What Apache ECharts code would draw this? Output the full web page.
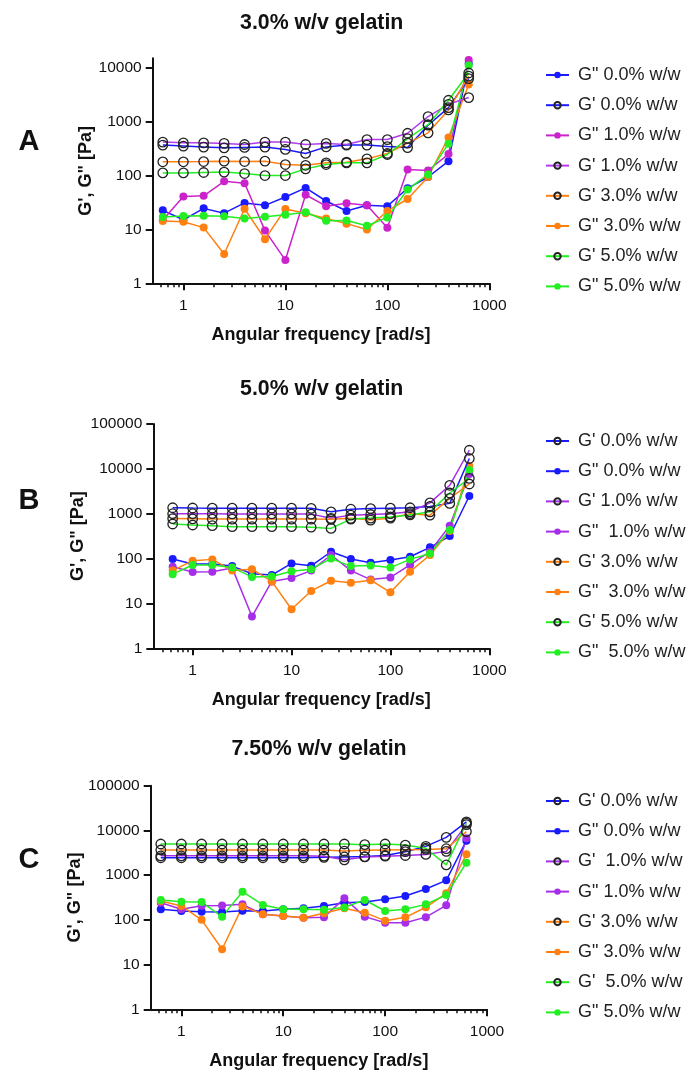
<!DOCTYPE html>
<html><head><meta charset="utf-8">
<script src="https://cdn.jsdelivr.net/npm/echarts@6/dist/echarts.min.js"></script>
<style>html,body{margin:0;padding:0;background:#fff}#c{width:694px;height:1084px}</style>
</head><body><div id="c"></div>
<script>
// ---- data ----
const freq = [0.628, 1, 1.58, 2.51, 3.98, 6.31, 10, 15.8, 25.1, 39.8, 63.1, 100, 158, 251, 398, 628];
const xMajorTicks = [1, 10, 100, 1000];
const xMinorTicks = [0.4, 0.5, 0.6, 0.7, 0.8, 0.9, 2, 3, 4, 5, 6, 7, 8, 9, 20, 30, 40, 50, 60, 70, 80, 90, 200, 300, 400, 500, 600, 700, 800, 900];
const yTicksA = [1, 10, 100, 1000, 10000];
const yTicksBC = [1, 10, 100, 1000, 10000, 100000];
const panelTitles = ['3.0% w/v gelatin', '5.0% w/v gelatin', '7.50% w/v gelatin'];
const panelLetters = ['A', 'B', 'C'];

// Panel A (3.0% w/v gelatin)
const A_Gpp_00 = [22.6, 15.1, 24.6, 20, 31, 28, 40, 59, 33.7, 22, 28, 27, 58, 94, 185, 12000];
const A_Gp_00  = [367, 352, 337, 327, 333, 337, 305, 257, 340, 367, 367, 345, 330, 860, 1820, 6300];
const A_Gpp_10 = [15, 41, 42, 78, 72, 9.5, 2.7, 44, 27, 30.5, 28, 10.7, 130, 124, 250, 14000];
const A_Gp_10  = [418, 405, 405, 395, 377, 418, 418, 377, 395, 377, 465, 465, 610, 1240, 2100, 2800];
const A_Gp_30  = [180, 180, 182, 185, 182, 185, 160, 155, 172, 177, 204, 257, 400, 620, 1650, 7000];
const A_Gpp_30 = [14.3, 13.9, 10.8, 3.5, 24.2, 6.6, 24, 20, 16, 12.8, 10, 22, 36.7, 94, 510, 4900];
const A_Gp_50  = [112, 112, 114, 116, 109, 100, 100, 133, 160, 172, 172, 246, 486, 880, 2500, 8000];
const A_Gpp_50 = [17, 17.7, 18, 17.5, 16, 17.2, 18.7, 20.8, 14.5, 14.7, 11.7, 16.7, 55, 105, 390, 11000];

// Panel B (5.0% w/v gelatin)
const B_Gp_00  = [1360, 1340, 1330, 1330, 1330, 1330, 1330, 1320, 1100, 1260, 1300, 1330, 1360, 1450, 1700, 17000];
const B_Gpp_00 = [98, 76, 76, 68, 46, 43, 78, 69, 142, 98, 81, 93, 110, 178, 318, 2480];
const B_Gp_10  = [1000, 1000, 1000, 990, 990, 990, 990, 980, 790, 930, 960, 1000, 1100, 1750, 4300, 26000];
const B_Gpp_10 = [66, 50, 51, 62, 5.1, 31, 37, 54, 120, 54, 34, 38, 72, 142, 540, 7700];
const B_Gp_30  = [780, 770, 760, 760, 760, 760, 760, 760, 750, 790, 720, 800, 1000, 930, 2200, 4600];
const B_Gpp_30 = [54, 90, 96, 54, 58, 31, 7.4, 19, 32, 29, 33, 17.7, 51, 120, 412, 11600];
const B_Gp_50  = [590, 560, 540, 515, 515, 515, 515, 500, 470, 760, 800, 850, 940, 1100, 2900, 6150];
const B_Gpp_50 = [45, 72, 72, 63, 39, 40, 52, 58, 100, 68, 70, 63, 96, 130, 435, 9400];

// Panel C (7.50% w/v gelatin)
const C_Gp_00  = [2450, 2450, 2450, 2450, 2450, 2450, 2450, 2450, 2500, 2550, 2600, 2750, 3350, 4400, 7000, 15500];
const C_Gpp_00 = [172, 158, 152, 150, 160, 158, 172, 181, 204, 242, 250, 288, 341, 490, 766, 5900];
const C_Gp_10  = [2700, 2700, 2700, 2700, 2700, 2700, 2700, 2700, 2650, 2200, 2550, 2650, 2750, 2900, 3400, 13500];
const C_Gpp_10 = [242, 172, 207, 210, 222, 133, 122, 112, 115, 303, 118, 86, 86, 115, 211, 6650];
const C_Gp_30  = [3650, 3650, 3650, 3650, 3650, 3650, 3650, 3650, 3650, 3450, 3600, 3650, 3700, 3750, 3900, 9400];
const C_Gpp_30 = [265, 205, 100, 22, 200, 133, 122, 112, 140, 181, 145, 96, 114, 191, 393, 2930];
const C_Gp_50  = [4970, 4970, 4970, 4970, 4970, 4970, 4970, 4970, 4970, 4970, 4800, 4970, 4700, 4000, 1690, 14500];
const C_Gpp_50 = [278, 255, 250, 118, 427, 215, 172, 172, 168, 190, 278, 158, 172, 222, 360, 1900];

// ---- styling ----
const FONT = '"Liberation Sans", Arial, sans-serif';
const COL = { blue: '#1a1aff', mag: '#cc22cc', lav: '#b33cf0', purple: '#a62ee8', orange: '#ff8010', green: '#22ee22' };

const panels = [
  { id: 'A', items: [
    ['G" 0.0% w/w', A_Gpp_00, COL.blue, false],
    ["G' 0.0% w/w", A_Gp_00, COL.blue, true],
    ['G" 1.0% w/w', A_Gpp_10, COL.mag, false],
    ["G' 1.0% w/w", A_Gp_10, COL.lav, true],
    ["G' 3.0% w/w", A_Gp_30, COL.orange, true],
    ['G" 3.0% w/w', A_Gpp_30, COL.orange, false],
    ["G' 5.0% w/w", A_Gp_50, COL.green, true],
    ['G" 5.0% w/w', A_Gpp_50, COL.green, false]
  ]},
  { id: 'B', items: [
    ["G' 0.0% w/w", B_Gp_00, COL.blue, true],
    ['G" 0.0% w/w', B_Gpp_00, COL.blue, false],
    ["G' 1.0% w/w", B_Gp_10, COL.purple, true],
    ['G"  1.0% w/w', B_Gpp_10, COL.purple, false],
    ["G' 3.0% w/w", B_Gp_30, COL.orange, true],
    ['G"  3.0% w/w', B_Gpp_30, COL.orange, false],
    ["G' 5.0% w/w", B_Gp_50, COL.green, true],
    ['G"  5.0% w/w', B_Gpp_50, COL.green, false]
  ]},
  { id: 'C', items: [
    ["G' 0.0% w/w", C_Gp_00, COL.blue, true],
    ['G" 0.0% w/w', C_Gpp_00, COL.blue, false],
    ["G'  1.0% w/w", C_Gp_10, COL.purple, true],
    ['G" 1.0% w/w', C_Gpp_10, COL.purple, false],
    ["G' 3.0% w/w", C_Gp_30, COL.orange, true],
    ['G" 3.0% w/w', C_Gpp_30, COL.orange, false],
    ["G'  5.0% w/w", C_Gp_50, COL.green, true],
    ['G" 5.0% w/w', C_Gpp_50, COL.green, false]
  ]}
];

const grids = [
  { left: 152.7, top: 58.3, width: 336.6, height: 225 },
  { left: 153.3, top: 424, width: 336, height: 224.3 },
  { left: 150.7, top: 785.7, width: 336.3, height: 223.6 }
];
const xMins = [0.5, 0.4, 0.5];
const yMaxs = [15000, 100000, 100000];
const yTicks = [yTicksA, yTicksBC, yTicksBC];
const legendTops = [61, 427, 787];
const titleYs = [23.3, 389.3, 749.3];
const titleXs = [321.7, 321.7, 319];
const letterYs = [142, 501, 860];

const plain = v => String(Math.round(v));
const xAxis = [], yAxis = [], series = [], legend = [], graphic = [];
panels.forEach((p, gi) => {
  xAxis.push({
    type: 'log', logBase: 10, gridIndex: gi, min: xMins[gi], max: 1000,
    name: 'Angular frequency [rad/s]', nameLocation: 'middle', nameGap: 43,
    nameTextStyle: { fontFamily: FONT, fontWeight: 'bold', fontSize: 18, color: '#111' },
    axisLine: { show: true, onZero: false, lineStyle: { color: '#111', width: 2 } },
    axisTick: { show: true, inside: false, length: 7, lineStyle: { color: '#111', width: 2 }, customValues: xMajorTicks },
    axisLabel: { show: true, margin: 14, fontFamily: FONT, fontSize: 15.5, color: '#111', customValues: xMajorTicks, formatter: plain },
    splitLine: { show: false }, minorTick: { show: false }
  });
  yAxis.push({
    type: 'log', logBase: 10, gridIndex: gi, min: 1, max: yMaxs[gi],
    name: "G', G\" [Pa]", nameLocation: 'middle', nameGap: 58, nameRotate: 90,
    nameTextStyle: { fontFamily: FONT, fontWeight: 'bold', fontSize: 18, color: '#111' },
    axisLine: { show: true, onZero: false, lineStyle: { color: '#111', width: 2 } },
    axisTick: { show: true, inside: false, length: 7, lineStyle: { color: '#111', width: 2 }, customValues: yTicks[gi] },
    axisLabel: { show: true, margin: 11, fontFamily: FONT, fontSize: 15.5, color: '#111', customValues: yTicks[gi], formatter: plain },
    splitLine: { show: false }
  });
  const names = [];
  p.items.forEach(([label, arr, color, open]) => {
    const nm = p.id + '|' + label;
    names.push(nm);
    series.push({
      type: 'line', name: nm, xAxisIndex: gi, yAxisIndex: gi,
      data: freq.map((f, i) => [f, arr[i]]),
      symbol: 'circle', symbolSize: open ? 9.5 : 8, showSymbol: true,
      lineStyle: { color: color, width: 1.5 },
      itemStyle: open ? { color: 'rgba(255,255,255,0)', borderColor: '#222', borderWidth: 1.3 } : { color: color, borderWidth: 0 },
      emphasis: { disabled: true }, z: open ? 3 : 2
    });
  });
  legend.push({
    data: names, orient: 'vertical', left: 540, top: legendTops[gi],
    itemWidth: 23, itemHeight: 8, itemGap: 12.2, selectedMode: false,
    formatter: n => n.split('|')[1],
    textStyle: { fontFamily: FONT, fontSize: 18, color: '#222', lineHeight: 18, padding: [0, 0, 0, 4] }
  });
  graphic.push({ type: 'text', x: titleXs[gi], y: titleYs[gi], style: { text: panelTitles[gi], font: 'bold 21.3px ' + FONT, fill: '#111', align: 'center', verticalAlign: 'middle' } });
  graphic.push({ type: 'text', x: 29, y: letterYs[gi], style: { text: panelLetters[gi], font: 'bold 29px ' + FONT, fill: '#111', align: 'center', verticalAlign: 'middle' } });
});
panels.forEach((p, gi) => {
  xAxis.push({
    type: 'log', logBase: 10, gridIndex: gi, min: xMins[gi], max: 1000, position: 'bottom',
    axisLine: { show: false },
    axisTick: { show: true, length: 4, lineStyle: { color: '#111', width: 1.5 }, customValues: xMinorTicks.filter(v => v > xMins[gi]) },
    axisLabel: { show: false }, splitLine: { show: false }
  });
});

const chart = echarts.init(document.getElementById('c'), null, { renderer: 'canvas' });
chart.setOption({
  animation: false, backgroundColor: '#fff',
  grid: grids.map(g => Object.assign({ containLabel: false }, g)),
  xAxis, yAxis, series, legend, graphic
});
</script></body></html>
